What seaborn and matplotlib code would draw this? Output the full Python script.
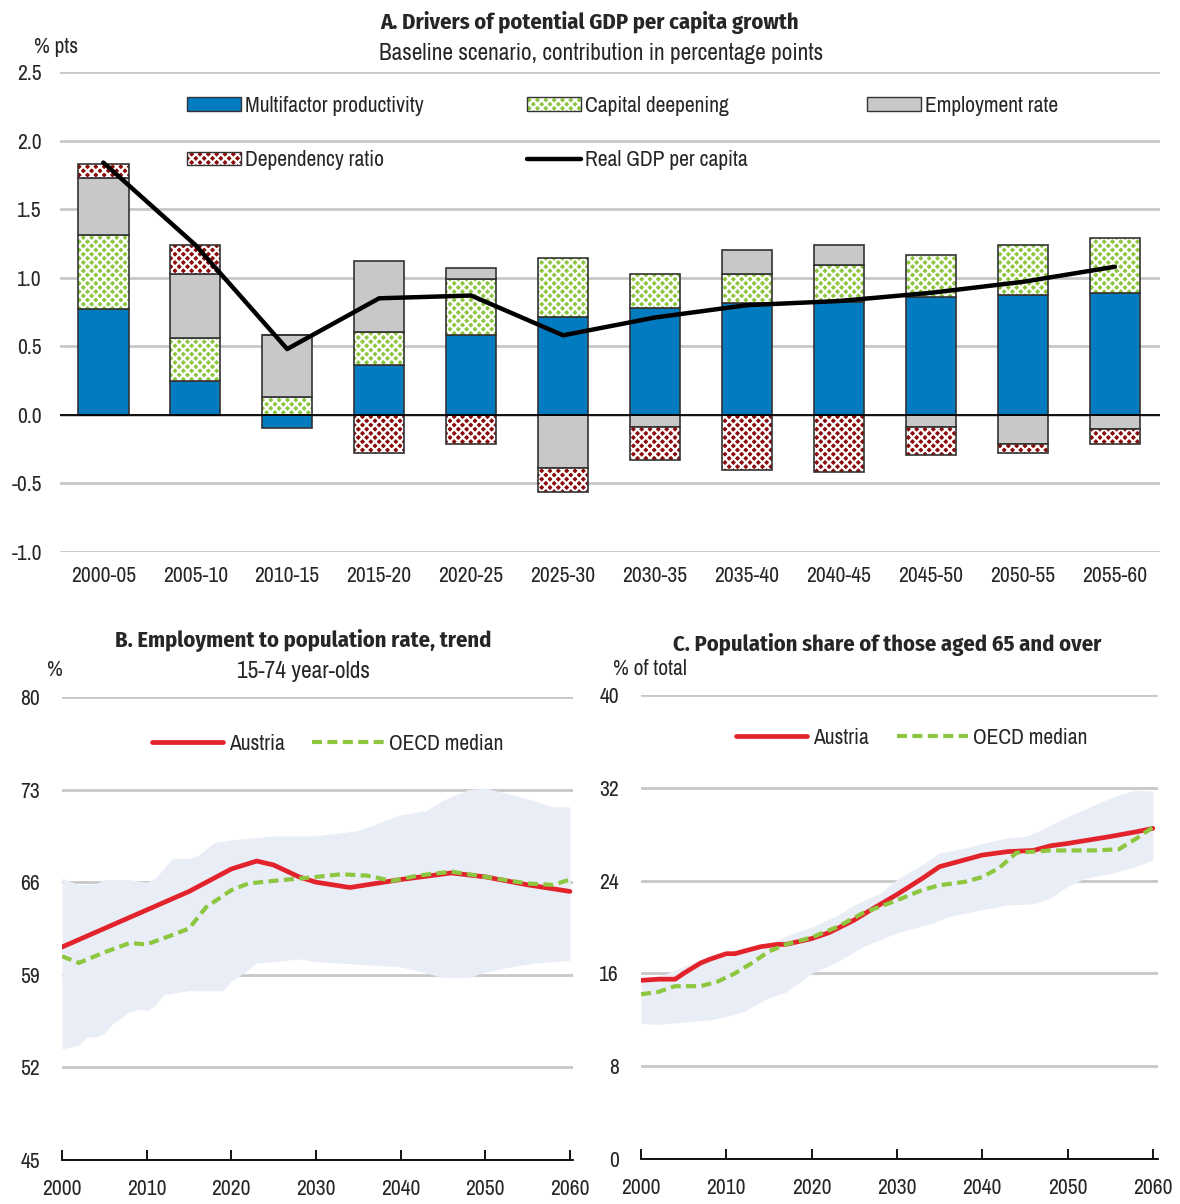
import numpy as np
import matplotlib
matplotlib.use("Agg")
import matplotlib.pyplot as plt
import seaborn as sns
from matplotlib.patches import Patch
from matplotlib.lines import Line2D
from matplotlib.legend_handler import HandlerTuple

# Panel A: drivers of potential GDP per capita growth
periods = ["2000-05", "2005-10", "2010-15", "2015-20", "2020-25", "2025-30",
           "2030-35", "2035-40", "2040-45", "2045-50", "2050-55", "2055-60"]
mfp = [0.77, 0.25, -0.095, 0.365, 0.58, 0.715, 0.78, 0.815, 0.826, 0.858, 0.875, 0.887]
capital = [0.54, 0.31, 0.13, 0.24, 0.41, 0.43, 0.25, 0.21, 0.265, 0.31, 0.365, 0.40]
employment = [0.42, 0.47, 0.45, 0.52, 0.08, -0.385, -0.085, 0.18, 0.15, -0.085, -0.215, -0.10]
dependency = [0.10, 0.21, 0.0, -0.28, -0.21, -0.175, -0.245, -0.405, -0.42, -0.21, -0.06, -0.115]
gdp_pc = [1.84, 1.24, 0.48, 0.85, 0.87, 0.58, 0.71, 0.80, 0.83, 0.89, 0.97, 1.08]

# Panel B: employment to population rate, 15-74
b_aut_yr = [2000, 2005, 2010, 2015, 2020, 2023, 2025, 2028, 2030, 2034, 2040, 2046, 2050, 2055, 2060]
b_aut = [61.1, 62.5, 63.9, 65.3, 67.0, 67.6, 67.3, 66.4, 66.0, 65.6, 66.2, 66.7, 66.4, 65.8, 65.3]
b_oecd_yr = [2000, 2002, 2005, 2008, 2010, 2013, 2015, 2017, 2020, 2022, 2025, 2030, 2033, 2036,
             2039, 2042, 2046, 2050, 2055, 2058, 2060]
b_oecd = [60.4, 59.9, 60.7, 61.4, 61.3, 62.0, 62.5, 64.1, 65.4, 65.9, 66.1, 66.4, 66.6, 66.5,
          66.1, 66.5, 66.8, 66.4, 65.9, 65.8, 66.2]
b_hi_yr = [2000, 2002, 2004, 2005, 2008, 2010, 2011, 2012, 2013, 2015, 2016, 2018, 2020, 2025,
           2030, 2035, 2040, 2043, 2045, 2048, 2050, 2052, 2055, 2058, 2060]
b_hi = [66.3, 65.8, 65.9, 66.2, 66.2, 66.0, 66.3, 67.0, 67.8, 67.8, 68.0, 69.0, 69.2, 69.5,
        69.5, 69.9, 71.1, 71.4, 72.2, 73.0, 73.1, 72.8, 72.3, 71.7, 71.7]
b_lo_yr = [2000, 2002, 2003, 2004, 2005, 2006, 2008, 2009, 2010, 2011, 2012, 2013, 2015, 2017,
           2019, 2020, 2022, 2023, 2025, 2028, 2030, 2035, 2040, 2042, 2045, 2048, 2050, 2053,
           2056, 2060]
b_lo = [53.4, 53.7, 54.3, 54.3, 54.6, 55.3, 56.2, 56.4, 56.3, 56.7, 57.5, 57.6, 57.8, 57.8,
        57.8, 58.5, 59.4, 59.9, 60.0, 60.2, 60.0, 59.8, 59.6, 59.3, 58.8, 58.8, 59.2, 59.6,
        59.9, 60.1]

# Panel C: population share aged 65+
c_aut_yr = [2000, 2002, 2004, 2005, 2007, 2008, 2010, 2011, 2012, 2014, 2016, 2017, 2020, 2022,
            2025, 2027, 2030, 2033, 2035, 2037, 2040, 2043, 2046, 2048, 2050, 2055, 2058, 2060]
c_aut = [15.4, 15.5, 15.5, 16.0, 16.9, 17.2, 17.7, 17.7, 17.9, 18.3, 18.5, 18.5, 19.0, 19.5,
         20.6, 21.5, 22.8, 24.2, 25.2, 25.6, 26.2, 26.5, 26.6, 27.0, 27.2, 27.8, 28.2, 28.5]
c_oecd_yr = [2000, 2002, 2004, 2007, 2009, 2011, 2013, 2015, 2017, 2020, 2023, 2026, 2030, 2033,
             2035, 2038, 2040, 2042, 2044, 2046, 2048, 2050, 2053, 2056, 2058, 2060]
c_oecd = [14.2, 14.4, 14.9, 14.9, 15.3, 16.0, 16.9, 17.9, 18.5, 19.1, 20.0, 21.2, 22.3, 23.2,
          23.6, 23.9, 24.3, 25.1, 26.4, 26.5, 26.6, 26.6, 26.6, 26.7, 27.6, 28.6]
c_hi_yr = [2000, 2003, 2005, 2008, 2012, 2015, 2018, 2020, 2023, 2025, 2028, 2030, 2033, 2035,
           2038, 2040, 2043, 2045, 2047, 2050, 2053, 2056, 2058, 2060]
c_hi = [15.3, 16.0, 16.6, 17.5, 18.0, 18.6, 19.5, 20.0, 21.0, 21.9, 22.9, 24.1, 25.4, 26.4,
        26.8, 27.2, 27.7, 27.8, 28.4, 29.5, 30.5, 31.4, 31.8, 31.7]
c_lo_yr = [2000, 2002, 2005, 2008, 2010, 2012, 2015, 2017, 2020, 2023, 2026, 2030, 2034, 2036,
           2040, 2043, 2046, 2048, 2050, 2052, 2055, 2058, 2060]
c_lo = [11.7, 11.6, 11.8, 12.0, 12.3, 12.7, 13.9, 14.4, 16.0, 17.0, 18.3, 19.5, 20.3, 20.9,
        21.5, 21.9, 22.0, 22.5, 23.5, 24.2, 24.6, 25.2, 25.8]

BLUE = "#037BC1"
GREEN = "#8DC63F"
GREY = "#C8C8C8"
DARKRED = "#8B0A0A"
RED = "#E3232B"
BAND = "#E9EDF5"
GRID = "#C8C8C8"
EDGE = "#333333"

sns.set_theme(style="white")
plt.rcParams["font.family"] = ["Archivo Narrow", "Liberation Sans", "DejaVu Sans"]
plt.rcParams["hatch.linewidth"] = 1.6
BOLD = ["Fira Sans Condensed", "Liberation Sans", "DejaVu Sans"]
FS = 15.5
SFS = 16.8
TFS = 16.2

W, H = 1180, 1204
fig = plt.figure(figsize=(W / 100, H / 100), dpi=100)


def px_axes(left, top, right, bottom):
    return fig.add_axes([left / W, 1 - bottom / H, (right - left) / W, (bottom - top) / H])


# ---------- Panel A ----------
ax = px_axes(60, 72, 1160, 552)
x = np.arange(len(periods))
width = 0.55
pos_base = np.zeros(len(periods))
neg_base = np.zeros(len(periods))
layers = [(mfp, BLUE, None), (capital, GREEN, "xxxx"),
          (employment, GREY, None), (dependency, DARKRED, "xxxx")]
for vals, col, hatch in layers:
    vals = np.array(vals)
    bottom = np.where(vals >= 0, pos_base, neg_base)
    if hatch:
        ax.bar(x, vals, width, bottom=bottom, color=col, hatch=hatch,
               edgecolor="white", linewidth=0, zorder=2)
        ax.bar(x, vals, width, bottom=bottom, fill=False,
               edgecolor=EDGE, linewidth=1.2, zorder=2)
    else:
        ax.bar(x, vals, width, bottom=bottom, color=col,
               edgecolor=EDGE, linewidth=1.2, zorder=2)
    pos_base = pos_base + np.where(vals >= 0, vals, 0)
    neg_base = neg_base + np.where(vals < 0, vals, 0)

sns.lineplot(x=x, y=gdp_pc, ax=ax, color="black", linewidth=3.2, zorder=4)
ax.axhline(0, color="black", linewidth=1.3, zorder=3)
ax.set_ylim(-1.0, 2.5)
yt = np.arange(-1.0, 2.51, 0.5)
ax.set_yticks(yt)
ax.set_yticklabels([f"{v:.1f}" for v in yt], fontsize=FS)
ax.set_xlim(-0.47, 11.49)
ax.set_xticks(x)
ax.set_xticklabels(periods, fontsize=FS)
ax.yaxis.grid(True, color=GRID, linewidth=2)
ax.set_axisbelow(True)
for s in ax.spines.values():
    s.set_visible(False)
ax.tick_params(axis="both", length=0)
ax.tick_params(axis="x", pad=10)
ax.tick_params(axis="y", pad=13)


def hatched(col):
    return (Patch(facecolor=col, hatch="xxxx", edgecolor="white", linewidth=0),
            Patch(fill=False, edgecolor=EDGE, linewidth=1.0))


# one legend per column so the columns sit where the reference puts them
leg_cols = [
    ([Patch(facecolor=BLUE, edgecolor=EDGE, linewidth=1.0), hatched(DARKRED)],
     ["Multifactor productivity", "Dependency ratio"], 0.0979),
    ([hatched(GREEN), Line2D([0], [0], color="black", linewidth=3.2)],
     ["Capital deepening", "Real GDP per capita"], 0.407),
    ([Patch(facecolor=GREY, edgecolor=EDGE, linewidth=1.0)],
     ["Employment rate"], 0.716),
]
for i, (hs, ls, lx) in enumerate(leg_cols):
    leg = ax.legend(hs, ls, loc="upper left", bbox_to_anchor=(lx, 0.991),
                    frameon=False, fontsize=FS, handlelength=2.5, handleheight=0.6,
                    handletextpad=0.2, labelspacing=1.6,
                    handler_map={tuple: HandlerTuple(ndivide=1, pad=0)})
    if i < len(leg_cols) - 1:
        ax.add_artist(leg)

fig.text(590 / W, 1 - 22 / H, "A. Drivers of potential GDP per capita growth",
         ha="center", va="center", fontsize=TFS, fontweight="bold", family=BOLD)
fig.text(601 / W, 1 - 53 / H, "Baseline scenario, contribution in percentage points",
         ha="center", va="center", fontsize=SFS)
fig.text(34 / W, 1 - 47 / H, "% pts", ha="left", va="center", fontsize=FS)


# ---------- Panels B and C ----------
def line_panel(ax, aut_yr, aut, oecd_yr, oecd, hi_yr, hi, lo_yr, lo, ylim, yticks, xmax,
               leg_x, leg_y):
    grid = np.arange(2000, 2061)
    ax.fill_between(grid, np.interp(grid, lo_yr, lo), np.interp(grid, hi_yr, hi),
                    color=BAND, linewidth=0, zorder=1)
    sns.lineplot(x=aut_yr, y=aut, ax=ax, color=RED, linewidth=3.4, zorder=3, label="Austria")
    sns.lineplot(x=oecd_yr, y=oecd, ax=ax, color=GREEN, linewidth=3.0, zorder=4,
                 label="OECD median")
    ax.lines[-1].set_dashes([2.4, 1.3])
    ax.set_ylim(*ylim)
    ax.set_yticks(yticks)
    ax.set_yticklabels([str(v) for v in yticks], fontsize=FS)
    ax.set_xlim(2000, xmax)
    ax.set_xticks(np.arange(2000, 2061, 10))
    ax.set_xticklabels([str(v) for v in range(2000, 2061, 10)], fontsize=FS)
    ax.yaxis.grid(True, color=GRID, linewidth=2, zorder=0)
    ax.set_axisbelow(True)
    for k in ("top", "right", "left"):
        ax.spines[k].set_visible(False)
    ax.spines["bottom"].set_color("black")
    ax.spines["bottom"].set_linewidth(1.3)
    ax.tick_params(axis="y", length=0, pad=16)
    ax.tick_params(axis="x", direction="in", length=7, width=1.3, color="black", pad=14,
                   bottom=True)
    leg = ax.legend(loc="center", bbox_to_anchor=(leg_x, leg_y), ncol=2, frameon=False,
                    fontsize=FS, handlelength=3.3, handletextpad=0.25, columnspacing=1.3)
    leg.get_lines()[1].set_dashes([2.4, 1.3])


axB = px_axes(62, 697, 573, 1160)
line_panel(axB, b_aut_yr, b_aut, b_oecd_yr, b_oecd, b_hi_yr, b_hi, b_lo_yr, b_lo,
           (45, 80), [45, 52, 59, 66, 73, 80], 2060.35, 0.52, 1 - (744 - 697) / 463)
fig.text(303 / W, 1 - 640 / H, "B. Employment to population rate, trend",
         ha="center", va="center", fontsize=TFS, fontweight="bold", family=BOLD)
fig.text(303 / W, 1 - 671 / H, "15-74 year-olds", ha="center", va="center", fontsize=SFS)
fig.text(47 / W, 1 - 670 / H, "%", ha="left", va="center", fontsize=FS)

axC = px_axes(641, 695, 1158, 1159)
line_panel(axC, c_aut_yr, c_aut, c_oecd_yr, c_oecd, c_hi_yr, c_hi, c_lo_yr, c_lo,
           (0, 40), [0, 8, 16, 24, 32, 40], 2060.6, 0.524, 1 - (738 - 695) / 464)
fig.text(887 / W, 1 - 645 / H, "C. Population share of those aged 65 and over",
         ha="center", va="center", fontsize=TFS, fontweight="bold", family=BOLD)
fig.text(613 / W, 1 - 669 / H, "% of total", ha="left", va="center", fontsize=FS)

fig.savefig("out.png", dpi=100)
